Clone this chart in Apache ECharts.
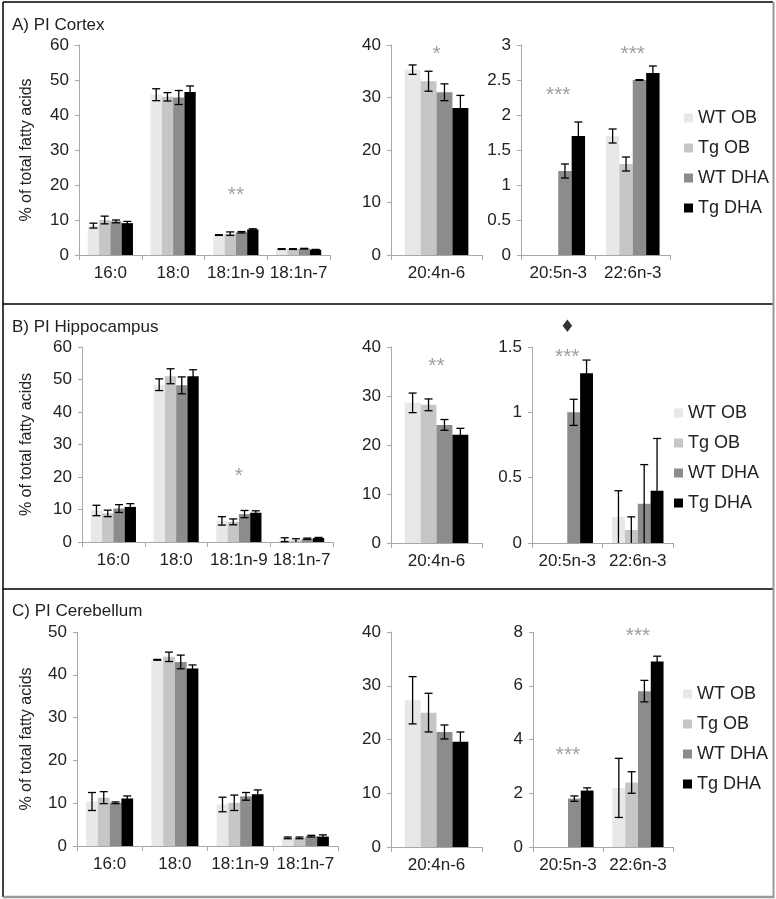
<!DOCTYPE html>
<html>
<head>
<meta charset="utf-8">
<script src="https://cdn.jsdelivr.net/npm/echarts@6/dist/echarts.min.js"></script>
<style>
html,body{margin:0;padding:0;background:#fff;}
#chart{width:776px;height:899px;}
</style>
</head>
<body>
<div id="chart"></div>
<script>
// ---------- DATA ----------
const groups = ['WT OB', 'Tg OB', 'WT DHA', 'Tg DHA'];
const satCats = ['16:0', '18:0', '18:1n-9', '18:1n-7'];
const aaCats = ['20:4n-6'];
const n3Cats = ['20:5n-3', '22:6n-3'];

// rows = groups (WT OB, Tg OB, WT DHA, Tg DHA), columns = categories
// A) PI Cortex
const cortexSatMean = [[8.4, 45.8, 5.7, 1.7], [10.0, 45.2, 6.1, 1.7], [9.6, 45.0, 6.5, 1.8], [9.1, 46.6, 7.3, 1.5]];
const cortexSatErr  = [[0.7, 1.7, 0.1, 0.1], [1.1, 1.2, 0.5, 0.1], [0.4, 2.0, 0.2, 0.1], [0.5, 1.7, 0.2, 0.1]];
const cortexAaMean  = [[35.3], [33.1], [31.0], [28.0]];
const cortexAaErr   = [[0.9], [1.9], [1.6], [2.4]];
const cortexN3Mean  = [[0, 1.7], [0, 1.3], [1.2, 2.5], [1.7, 2.6]];
const cortexN3Err   = [[null, 0.1], [null, 0.1], [0.1, 0.005], [0.2, 0.1]];
const cortexSatSig  = [['18:1n-9', 17.0, '**']];
const cortexAaSig   = [['20:4n-6', 38.3, '*']];
const cortexN3Sig   = [['20:5n-3', 2.28, '***'], ['22:6n-3', 2.87, '***']];

// B) PI Hippocampus
const hippoSatMean = [[9.7, 48.4, 6.5, 0.7], [8.8, 51.0, 6.2, 0.5], [10.3, 48.2, 8.6, 1.0], [10.8, 51.0, 9.0, 1.2]];
const hippoSatErr  = [[1.6, 1.8, 1.3, 0.6], [1.0, 2.3, 0.9, 0.5], [1.2, 2.6, 1.1, 0.2], [1.0, 2.0, 0.6, 0.2]];
const hippoAaMean  = [[28.6], [28.2], [24.1], [22.1]];
const hippoAaErr   = [[2.0], [1.2], [1.1], [1.3]];
const hippoN3Mean  = [[0, 0.2], [0, 0.1], [1.0, 0.3], [1.3, 0.4]];
const hippoN3Err   = [[null, 0.2], [null, 0.1], [0.1, 0.3], [0.1, 0.4]];
const hippoSatSig  = [['18:1n-9', 20.2, '*']];
const hippoAaSig   = [['20:4n-6', 36.0, '**']];
const hippoN3Sig   = [['20:5n-3', 1.42, '***'], ['20:5n-3', 1.65, '♦']];

// C) PI Cerebellum
const cereSatMean = [[10.4, 43.5, 9.7, 1.9], [11.3, 44.2, 10.1, 1.9], [10.1, 43.0, 11.6, 2.3], [11.1, 41.5, 12.1, 2.2]];
const cereSatErr  = [[2.1, 0.1, 1.7, 0.2], [1.4, 1.1, 1.8, 0.2], [0.2, 1.6, 0.9, 0.2], [0.6, 0.8, 1.0, 0.4]];
const cereAaMean  = [[27.3], [25.0], [21.4], [19.6]];
const cereAaErr   = [[4.4], [3.6], [1.3], [1.8]];
const cereN3Mean  = [[0, 2.2], [0, 2.4], [1.8, 5.8], [2.1, 6.9]];
const cereN3Err   = [[null, 1.1], [null, 0.4], [0.1, 0.4], [0.1, 0.2]];
const cereSatSig  = [];
const cereAaSig   = [];
const cereN3Sig   = [['20:5n-3', 3.4, '***'], ['22:6n-3', 7.85, '***']];

const panelTitles = ['A) PI Cortex', 'B) PI Hippocampus', 'C) PI Cerebellum'];
const yAxisTitle = '% of total fatty acids';

// ---------- LAYOUT / STYLE ----------
const FONT = '"Liberation Sans", Arial, sans-serif';
const colors = ['#e8e8e8', '#c6c6c6', '#8c8c8c', '#000000'];
const axisColor = '#a8a8a8';
const textColor = '#222';
const TICK_FS = 17;

const subs = [
  {g: {left: 79, top: 45, width: 251, height: 210}, cats: satCats, mean: cortexSatMean, err: cortexSatErr, sig: cortexSatSig, max: 60, step: 10, cg: 0.28, yName: true},
  {g: {left: 391, top: 45, width: 91, height: 210}, cats: aaCats, mean: cortexAaMean, err: cortexAaErr, sig: cortexAaSig, max: 40, step: 10, cg: 0.30},
  {g: {left: 521, top: 45, width: 149, height: 210}, cats: n3Cats, mean: cortexN3Mean, err: cortexN3Err, sig: cortexN3Sig, max: 3, step: 0.5, cg: 0.28},
  {g: {left: 82, top: 347, width: 251, height: 195}, cats: satCats, mean: hippoSatMean, err: hippoSatErr, sig: hippoSatSig, max: 60, step: 10, cg: 0.28, yName: true},
  {g: {left: 391, top: 347, width: 91, height: 196}, cats: aaCats, mean: hippoAaMean, err: hippoAaErr, sig: hippoAaSig, max: 40, step: 10, cg: 0.30},
  {g: {left: 532, top: 347, width: 141, height: 196}, cats: n3Cats, mean: hippoN3Mean, err: hippoN3Err, sig: hippoN3Sig, max: 1.5, step: 0.5, cg: 0.27},
  {g: {left: 77, top: 632, width: 261, height: 214}, cats: satCats, mean: cereSatMean, err: cereSatErr, sig: cereSatSig, max: 50, step: 10, cg: 0.28, yName: true},
  {g: {left: 391, top: 632, width: 91, height: 215}, cats: aaCats, mean: cereAaMean, err: cereAaErr, sig: cereAaSig, max: 40, step: 10, cg: 0.30},
  {g: {left: 533, top: 632, width: 140, height: 215}, cats: n3Cats, mean: cereN3Mean, err: cereN3Err, sig: cereN3Sig, max: 8, step: 2, cg: 0.27}
];

const grids = [], xAxes = [], yAxes = [], series = [];

subs.forEach((s, i) => {
  grids.push(Object.assign({containLabel: false}, s.g));
  xAxes.push({
    type: 'category', gridIndex: i, data: s.cats,
    axisLine: {lineStyle: {color: axisColor, width: 1}},
    axisTick: {show: true, length: 5, lineStyle: {color: axisColor}},
    axisLabel: {color: textColor, fontSize: TICK_FS, fontFamily: FONT, margin: 10, interval: 0}
  });
  const ya = {
    type: 'value', gridIndex: i, min: 0, max: s.max, interval: s.step,
    axisLine: {show: true, lineStyle: {color: axisColor, width: 1}},
    axisTick: {show: true, length: 4, lineStyle: {color: axisColor}},
    splitLine: {show: false},
    axisLabel: {color: textColor, fontSize: TICK_FS, fontFamily: FONT, margin: 10}
  };
  if (s.yName) {
    ya.name = yAxisTitle;
    ya.nameLocation = 'middle';
    ya.nameGap = s.g.left - 35;
    ya.nameTextStyle = {color: textColor, fontSize: 16, fontFamily: FONT};
  }
  yAxes.push(ya);

  groups.forEach((name, gi) => {
    series.push({
      type: 'bar', name: name, xAxisIndex: i, yAxisIndex: i,
      data: s.mean[gi],
      barGap: '0%', barCategoryGap: (s.cg * 100) + '%',
      itemStyle: {color: colors[gi]},
      emphasis: {disabled: true},
      animation: false
    });
  });

  const errData = [];
  groups.forEach((name, gi) => {
    s.cats.forEach((c, ci) => {
      const e = s.err[gi][ci];
      if (e === null || e === undefined) return;
      const m = s.mean[gi][ci];
      errData.push([ci, gi, Math.max(0, m - e), m + e]);
    });
  });
  const cg = s.cg;
  series.push({
    type: 'custom', xAxisIndex: i, yAxisIndex: i, z: 5,
    data: errData,
    encode: {x: 0, y: [2, 3]},
    animation: false,
    renderItem: function (params, api) {
      const c = api.value(0), g = api.value(1), lo = api.value(2), hi = api.value(3);
      const band = api.size([1, 0])[0];
      const bw = band * (1 - cg) / 4;
      const pLo = api.coord([c, lo]);
      const pHi = api.coord([c, hi]);
      const x = pLo[0] + (g - 1.5) * bw;
      const hw = 4;
      const st = {stroke: '#000', lineWidth: 1.3};
      const children = [
        {type: 'line', shape: {x1: x, y1: pLo[1], x2: x, y2: pHi[1]}, style: st},
        {type: 'line', shape: {x1: x - hw, y1: pHi[1], x2: x + hw, y2: pHi[1]}, style: st}
      ];
      if (lo > 0) children.push({type: 'line', shape: {x1: x - hw, y1: pLo[1], x2: x + hw, y2: pLo[1]}, style: st});
      return {type: 'group', children: children};
    }
  });

  if (s.sig.length) {
    series.push({
      type: 'scatter', xAxisIndex: i, yAxisIndex: i, clip: false,
      symbolSize: 1, itemStyle: {color: 'rgba(0,0,0,0)'},
      data: s.sig, animation: false,
      label: {
        show: true, position: 'inside',
        formatter: p => p.data[2] === '♦' ? '{d|♦}' : p.data[2],
        fontSize: 21, fontFamily: FONT,
        color: '#888',
        rich: {d: {color: '#000', fontSize: 17, fontFamily: 'DejaVu Sans'}}
      },
      silent: true
    });
  }
});

const legendTops = [104, 399, 680];
const legendLefts = [679, 669, 678];
const legends = legendTops.map((t, k) => ({
  data: groups, orient: 'vertical', left: legendLefts[k], top: t,
  itemWidth: 9, itemHeight: 9, itemGap: 12, icon: 'rect',
  selectedMode: false,
  textStyle: {color: textColor, fontSize: 18, fontFamily: FONT}
}));

const titleTops = [12, 314, 598];
const titles = panelTitles.map((t, k) => ({
  text: t, left: 7, top: titleTops[k],
  textStyle: {color: textColor, fontSize: 17, fontWeight: 'normal', fontFamily: FONT}
}));

const borders = [
  {type: 'line', shape: {x1: 3, y1: 2, x2: 773, y2: 2}, style: {stroke: '#000', lineWidth: 1.5}},
  {type: 'line', shape: {x1: 3, y1: 2, x2: 3, y2: 897}, style: {stroke: '#000', lineWidth: 1.5}},
  {type: 'line', shape: {x1: 3, y1: 304, x2: 773, y2: 304}, style: {stroke: '#000', lineWidth: 1.5}},
  {type: 'line', shape: {x1: 3, y1: 589, x2: 773, y2: 589}, style: {stroke: '#000', lineWidth: 1.5}},
  {type: 'line', shape: {x1: 773.5, y1: 2, x2: 773.5, y2: 898}, style: {stroke: '#999', lineWidth: 2}},
  {type: 'line', shape: {x1: 3, y1: 897, x2: 774, y2: 897}, style: {stroke: '#999', lineWidth: 2.5}}
];

const chart = echarts.init(document.getElementById('chart'), null, {renderer: 'canvas'});
chart.setOption({
  backgroundColor: '#fff',
  animation: false,
  title: titles,
  legend: legends,
  grid: grids,
  xAxis: xAxes,
  yAxis: yAxes,
  series: series,
  graphic: borders
});
</script>
</body>
</html>
